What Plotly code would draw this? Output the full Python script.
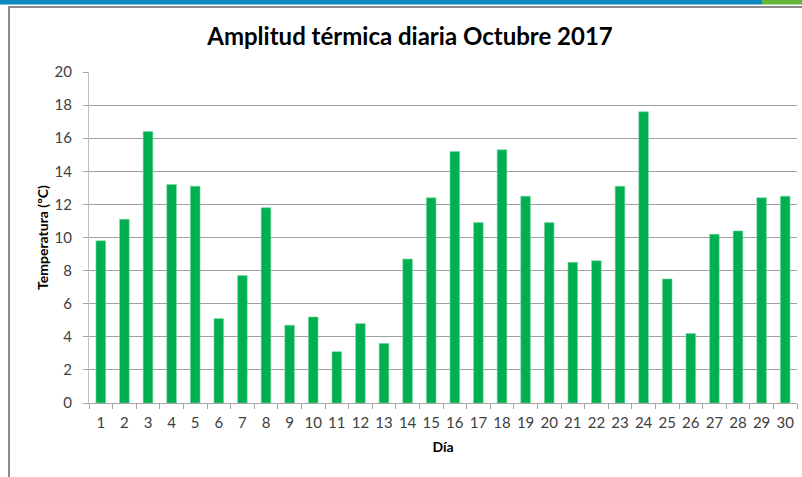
import plotly.graph_objects as go

dias = [str(d) for d in range(1, 31)]
amplitud = [9.8, 11.1, 16.4, 13.2, 13.1, 5.1, 7.7, 11.8, 4.7, 5.2,
            3.1, 4.8, 3.6, 8.7, 12.4, 15.2, 10.9, 15.3, 12.5, 10.9,
            8.5, 8.6, 13.1, 17.6, 7.5, 4.2, 10.2, 10.4, 12.4, 12.5]
y_ticks = list(range(0, 21, 2))

W, H = 802, 477
L, R, T, B = 89, 5, 72, 74
pw, ph = W - L - R, H - T - B

def px(x):
    return (x - L) / pw

def py(y):
    return (H - B - y) / ph

fig = go.Figure(go.Bar(
    x=dias, y=amplitud,
    marker=dict(color="#00B050", line=dict(color="#7FD8A6", width=0.6)),
    width=0.41,
))

shapes = [
    dict(type="rect", xref="paper", yref="paper", x0=px(0), x1=px(762), y0=py(4.5), y1=py(0),
         fillcolor="#0A88C0", line=dict(width=0), layer="above"),
    dict(type="rect", xref="paper", yref="paper", x0=px(762), x1=px(802), y0=py(4.5), y1=py(0),
         fillcolor="#66B53A", line=dict(width=0), layer="above"),
    dict(type="line", xref="paper", yref="paper", x0=px(8), x1=px(802), y0=py(7), y1=py(7),
         line=dict(color="#8C8C8C", width=2)),
    dict(type="line", xref="paper", yref="paper", x0=px(9), x1=px(9), y0=py(6), y1=py(477),
         line=dict(color="#8C8C8C", width=2)),
]

fig.update_layout(
    width=W, height=H,
    margin=dict(l=L, r=R, t=T, b=B, autoexpand=False),
    paper_bgcolor="white", plot_bgcolor="white",
    font=dict(family="Lato", color="#404040", size=15),
    title=dict(text="<b>Amplitud térmica diaria Octubre 2017</b>", x=410 / W, xref="container",
               xanchor="center", y=1 - 37 / H, yanchor="middle",
               font=dict(family="Lato", size=24, color="#000000")),
    showlegend=False,
    shapes=shapes,
    xaxis=dict(
        type="category", tickson="boundaries", ticks="outside", ticklen=5,
        tickcolor="#A6A6A6", showline=True, linecolor="#A6A6A6", linewidth=1,
        showgrid=False, ticklabelstandoff=6, tickangle=0, automargin=False,
        tickfont=dict(size=15, color="#404040"),
        title=dict(text="<b>Día</b>", font=dict(size=14, color="#000000"), standoff=12),
    ),
    yaxis=dict(
        range=[0, 20], tickvals=y_ticks, ticks="outside", ticklen=5,
        tickcolor="#A6A6A6", showline=True, linecolor="#BFBFBF", linewidth=1,
        showgrid=True, gridcolor="#A0A0A0", gridwidth=1, zeroline=False,
        ticklabelstandoff=8, automargin=False,
        tickfont=dict(size=15, color="#404040"),
        title=dict(text="<b>Temperatura (ºC)</b>", font=dict(size=14, color="#000000"), standoff=2),
    ),
)

fig.write_html("out.html", config={"displayModeBar": False},
               post_script="document.body.style.margin='0px';")
